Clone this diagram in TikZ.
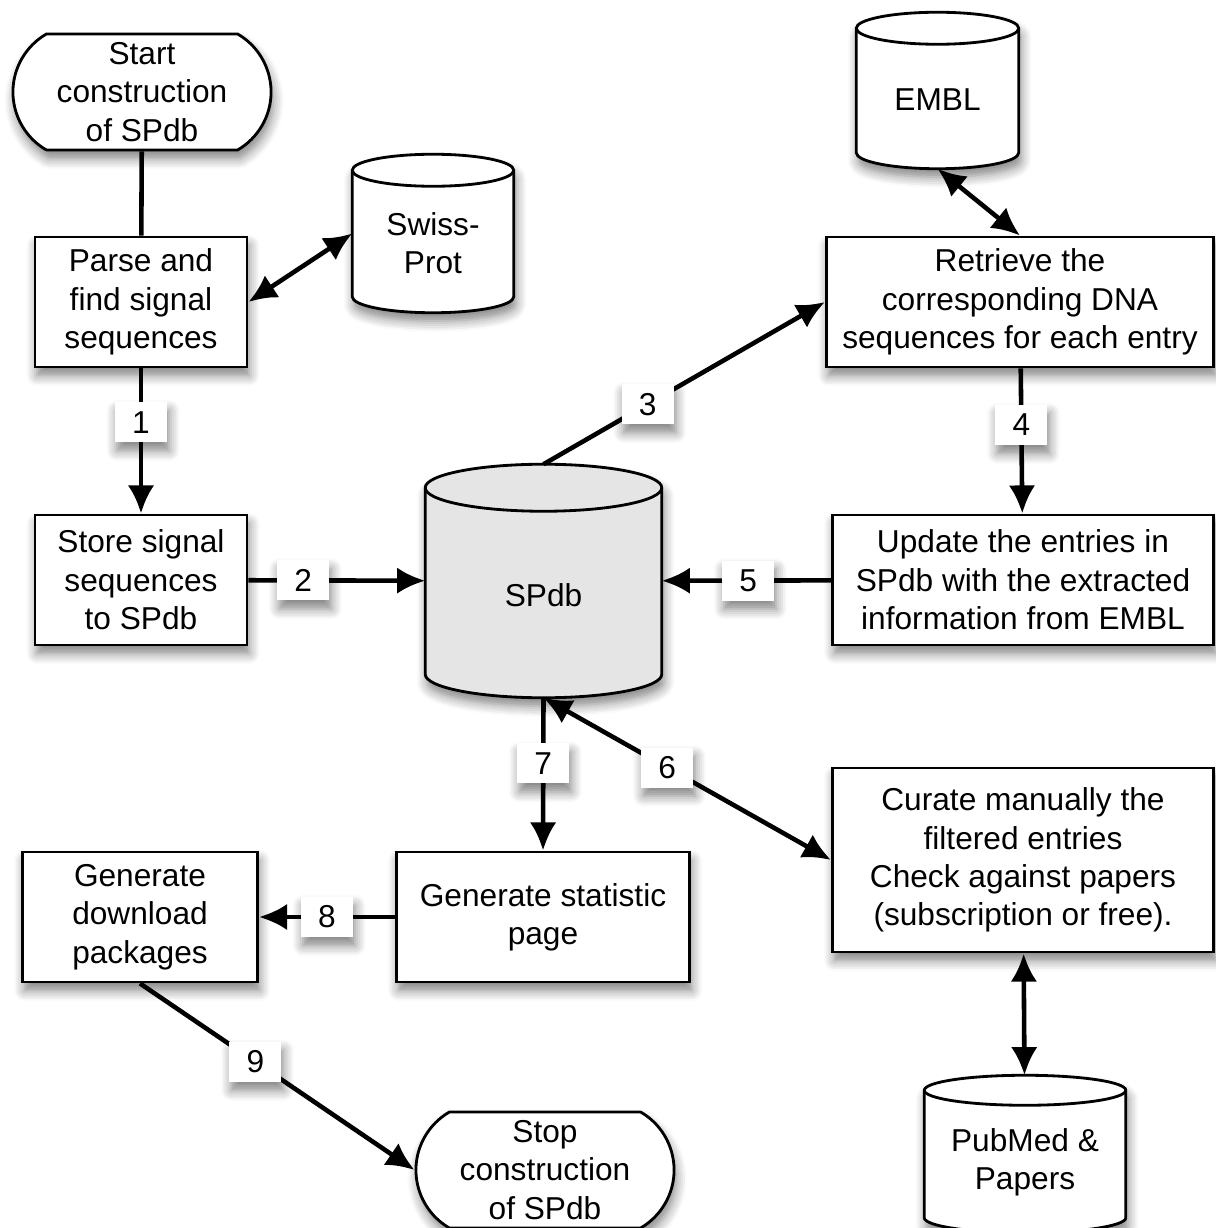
\documentclass[tikz,border=0pt]{standalone}
\usepackage{fontspec}
\setmainfont{Liberation Sans}
\usetikzlibrary{arrows.meta,calc,shapes.misc,shadows.blur}

\tikzset{
  every node/.style={font=\fontsize{9}{10.9}\selectfont, align=center, inner sep=2pt},
  shade/.style={blur shadow={shadow xshift=0.6pt, shadow yshift=-2.4pt,
    shadow blur radius=3pt, shadow blur steps=6, shadow opacity=50}},
  box/.style={draw, line width=0.8pt, fill=white, shade},
  term/.style={box, rounded rectangle, rounded rectangle arc length=120,
    minimum width=2.72cm, minimum height=1.16cm},
  db/.style={inner sep=0pt},
  num/.style={fill=white, minimum width=0.52cm, minimum height=0.4cm, shade},
  flow/.style={line width=1.3pt, draw opacity=1, fill opacity=1,
    >={Latex[length=8pt,width=7.5pt]}}
}

% database drum filling the box of node #1, ellipse half height #2, fill #3
\newcommand\drum[3]{%
  \begin{scope}
  \path[draw, line width=0.8pt, fill=#3, shade]
    let \p1=(#1.north west), \p2=(#1.south east), \n1={(\x2-\x1)/2} in
    (\x1,\y1-#2) -- (\x1,\y2+#2)
    arc[start angle=180, end angle=360, x radius=\n1, y radius=#2]
    -- (\x2,\y1-#2)
    arc[start angle=0, end angle=180, x radius=\n1, y radius=#2] -- cycle;
  \end{scope}
  \path[draw, line width=0.8pt]
    let \p1=(#1.north west), \p2=(#1.south east), \n1={(\x2-\x1)/2} in
    (\x1,\y1-#2) arc[start angle=180, end angle=360, x radius=\n1, y radius=#2];
}

\begin{document}
\begin{tikzpicture}[x=0.01cm,y=-0.01cm]
  \useasboundingbox (0,0) rectangle (1215,1228);

  % databases
  \node[db, minimum width=1.6cm, minimum height=1.57cm] (swiss) at (433,233.5) {};
  \node[db, minimum width=2.35cm, minimum height=2.32cm] (spdb) at (543.5,581) {};
  \node[db, minimum width=1.61cm, minimum height=1.55cm] (embl) at (937.5,90.5) {};
  \node[db, minimum width=2cm, minimum height=1.56cm] (pubmed) at (1025,1154) {};
  \drum{swiss}{0.16cm}{white}
  \drum{spdb}{0.235cm}{black!10}
  \drum{embl}{0.16cm}{white}
  \drum{pubmed}{0.15cm}{white}
  \node (swisstext) at ([yshift=-0.095cm]swiss.center) {Swiss-\\Prot};
  \node (spdbtext) at ([yshift=-0.14cm]spdb.center) {SPdb};
  \node (embltext) at ([yshift=-0.095cm]embl.center) {EMBL};
  \node (pubmedtext) at ([yshift=-0.08cm]pubmed.center) {PubMed \&\\Papers};

  % steps
  \node[term] (start) at (142,92) {Start\\construction\\of SPdb};
  \node[box, minimum width=2.12cm, minimum height=1.3cm] (parse) at (141,302)
    {Parse and\\find signal\\sequences};
  \node[box, minimum width=2.12cm, minimum height=1.3cm] (store) at (141,580)
    {Store signal\\sequences\\to SPdb};
  \node[box, minimum width=3.87cm, minimum height=1.3cm] (retrieve) at (1020,302)
    {Retrieve the\\corresponding DNA\\sequences for each entry};
  \node[box, minimum width=3.81cm, minimum height=1.3cm] (update) at (1023,580)
    {Update the entries in\\SPdb with the extracted\\information from EMBL};
  \node[box, minimum width=3.81cm, minimum height=1.84cm] (curate) at (1023,860)
    {Curate manually the\\filtered entries\\Check against papers\\(subscription or free).};
  \node[box, minimum width=2.93cm, minimum height=1.3cm] (stat) at (543,917)
    {Generate statistic\\page};
  \node[box, minimum width=2.35cm, minimum height=1.3cm] (download) at (140,917)
    {Generate\\download\\packages};
  \node[term] (stop) at (545,1170) {Stop\\construction\\of SPdb};

  % connectors
  \draw[flow] (start) -- (parse);
  \draw[flow,<->] (parse.east) -- (swiss.west);
  \draw[flow,->] (parse) -- node[num,pos=0.37] {1} (store);
  \draw[flow,->] (store) -- node[num,pos=0.31] {2} (spdb);
  \draw[flow,->] (spdb.north) -- node[num,pos=0.37] {3} (retrieve.west);
  \draw[flow,<->] (embl.south) -- (retrieve.north);
  \draw[flow,->] (retrieve) -- node[num,pos=0.39] {4} (update);
  \draw[flow,->] (update) -- node[num,pos=0.49] {5} (spdb);
  \draw[flow,<->] (spdb.south) -- node[num,pos=0.43] {6} (curate.west);
  \draw[flow,->] (spdb.south) -- node[num,pos=0.43] {7} (stat.north);
  \draw[flow,->] (stat) -- node[num,pos=0.5] {8} (download);
  \draw[flow,->] (download.south) -- node[num,pos=0.42] {9} (stop.west);
  \draw[flow,<->] (curate) -- (pubmed);
\end{tikzpicture}
\end{document}
